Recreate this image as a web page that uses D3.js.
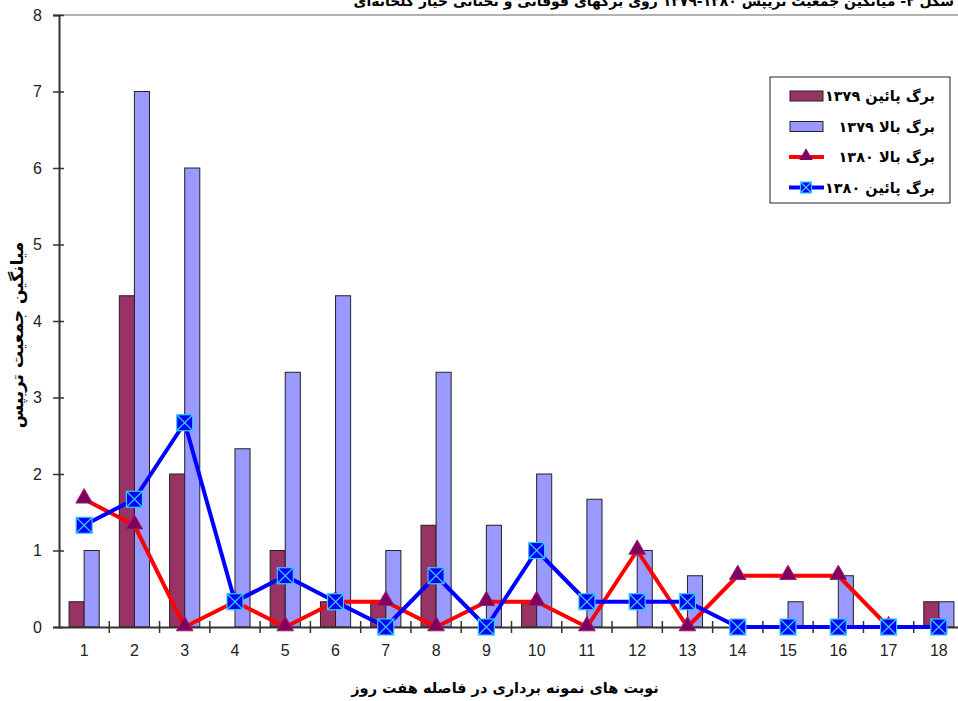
<!DOCTYPE html>
<html>
<head>
<meta charset="utf-8">
<script src="https://cdn.jsdelivr.net/npm/d3@7"></script>
<style>
    body { margin: 0; background: #fff; }
    svg { display: block; }
</style>
</head>
<body>
<div id="chart"></div>
<script>
// Sampling rounds (7 day interval)
const categories = ["1", "2", "3", "4", "5", "6", "7", "8", "9", "10", "11", "12", "13", "14", "15", "16", "17", "18"];

// Mean thrips population per series
const lowerLeaf1379 = [0.33, 4.33, 2, 0, 1, 0.33, 0.33, 1.33, 0, 0.33, 0, 0, 0, 0, 0, 0, 0, 0.33];
const upperLeaf1379 = [1, 7, 6, 2.33, 3.33, 4.33, 1, 3.33, 1.33, 2, 1.67, 1, 0.67, 0, 0.33, 0.67, 0, 0.33];
const upperLeaf1380 = [1.67, 1.33, 0, 0.33, 0, 0.33, 0.33, 0, 0.33, 0.33, 0, 1, 0, 0.67, 0.67, 0.67, 0, 0];
const lowerLeaf1380 = [1.33, 1.67, 2.67, 0.33, 0.67, 0.33, 0, 0.67, 0, 1, 0.33, 0.33, 0.33, 0, 0, 0, 0, 0];

// Y tick values
const yTicks = [0, 1, 2, 3, 4, 5, 6, 7, 8];

// Series names
const seriesNames = ["برگ پائین ۱۳۷۹", "برگ بالا ۱۳۷۹", "برگ بالا ۱۳۸۰", "برگ پائین ۱۳۸۰"];

const titleText = "شکل ۲- میانگین جمعیت تریپس ۱۳۸۰-۱۳۷۹ روی برگهای فوقانی و تحتانی خیار گلخانه‌ای";
const xTitle = "نوبت های نمونه برداری در فاصله هفت روز";
const yTitle = "میانگین جمعیت تریپس";

const width = 958, height = 701;
const plotLeft = 59, plotRight = 964, plotTop = 15, plotBottom = 627;
const faFont = "'DejaVu Sans', sans-serif";
const numFont = "'Liberation Sans', Arial, sans-serif";

const svg = d3.select("#chart")
    .append("svg")
    .attr("width", width)
    .attr("height", height);

// Scales
const x = d3.scaleBand().domain(categories).range([plotLeft, plotRight]).padding(0);
const xSub = d3.scaleBand().domain(["a", "b"]).range([0, x.bandwidth()]).paddingInner(0).paddingOuter(0.667);
const y = d3.scaleLinear().domain([0, 8]).range([plotBottom, plotTop]);

// Title (cut off at the top, as in the source picture)
svg.append("text")
    .attr("x", 954)
    .attr("y", 6)
    .attr("text-anchor", "start")
    .attr("direction", "rtl")
    .attr("font-family", faFont)
    .attr("font-weight", "bold")
    .attr("font-size", "14px")
    .text(titleText);

// Top border of the plot area
svg.append("line")
    .attr("x1", plotLeft).attr("x2", plotRight)
    .attr("y1", y(8)).attr("y2", y(8))
    .attr("stroke", "#9a9a9a")
    .attr("stroke-width", 1.5);

// Bars
const barData = [
    { values: lowerLeaf1379, key: "a", color: "#993366" },
    { values: upperLeaf1379, key: "b", color: "#9999FF" }
];
barData.forEach(s => {
    svg.append("g")
        .selectAll("rect")
        .data(s.values)
        .enter()
        .append("rect")
        .attr("x", (d, i) => x(categories[i]) + xSub(s.key))
        .attr("y", d => y(d))
        .attr("width", xSub.bandwidth())
        .attr("height", d => y(0) - y(d))
        .attr("fill", s.color)
        .attr("stroke", "#222")
        .attr("stroke-width", 1);
});

// Axes
const yAxis = svg.append("g")
    .attr("transform", `translate(${plotLeft},0)`)
    .call(d3.axisLeft(y).tickValues(yTicks).tickSize(6).tickPadding(11));
yAxis.selectAll(".tick line").attr("x1", 5);

const xAxis = svg.append("g")
    .attr("transform", `translate(0,${plotBottom})`)
    .call(d3.axisBottom(x).tickSize(0).tickPadding(18));

// x ticks sit on the band boundaries
xAxis.selectAll(".tick line").remove();
svg.append("g")
    .selectAll("line")
    .data(categories)
    .enter()
    .append("line")
    .attr("x1", d => x(d) + x.bandwidth())
    .attr("x2", d => x(d) + x.bandwidth())
    .attr("y1", plotBottom - 6)
    .attr("y2", plotBottom + 6)
    .attr("stroke", "#333")
    .attr("stroke-width", 1.5);

[yAxis, xAxis].forEach(a => {
    a.select(".domain").attr("stroke", "#333").attr("stroke-width", 2);
    a.selectAll(".tick line").attr("stroke", "#333").attr("stroke-width", 1.5);
    a.selectAll("text")
        .attr("font-family", numFont)
        .attr("font-size", "16px")
        .attr("fill", "#222");
});

// Lines
const line = d3.line()
    .x((d, i) => x(categories[i]) + x.bandwidth() / 2)
    .y(d => y(d));

svg.append("path")
    .datum(upperLeaf1380)
    .attr("d", line)
    .attr("fill", "none")
    .attr("stroke", "#FF0000")
    .attr("stroke-width", 4)
    .attr("stroke-linejoin", "round");

const tri = d3.symbol().type(d3.symbolTriangle).size(120);
svg.append("g")
    .selectAll("path")
    .data(upperLeaf1380)
    .enter()
    .append("path")
    .attr("d", tri)
    .attr("transform", (d, i) => `translate(${x(categories[i]) + x.bandwidth() / 2},${y(d) - 1})`)
    .attr("fill", "#800060")
    .attr("stroke", "#a0206a")
    .attr("stroke-width", 1);

svg.append("path")
    .datum(lowerLeaf1380)
    .attr("d", line)
    .attr("fill", "none")
    .attr("stroke", "#0000FF")
    .attr("stroke-width", 4)
    .attr("stroke-linejoin", "round");

// Square marker with a cyan cross
function squareMarker(g, cx, cy, s) {
    g.append("rect")
        .attr("x", cx - s / 2).attr("y", cy - s / 2)
        .attr("width", s).attr("height", s)
        .attr("fill", "#0000FF")
        .attr("stroke", "#33CCFF")
        .attr("stroke-width", 1.2);
    g.append("path")
        .attr("d", `M${cx - s / 2},${cy - s / 2}L${cx + s / 2},${cy + s / 2}M${cx + s / 2},${cy - s / 2}L${cx - s / 2},${cy + s / 2}`)
        .attr("stroke", "#33CCFF")
        .attr("stroke-width", 1.2);
}
const markers = svg.append("g");
lowerLeaf1380.forEach((d, i) => {
    squareMarker(markers, x(categories[i]) + x.bandwidth() / 2, y(d), 16);
});

// Axis titles
svg.append("text")
    .attr("x", 505)
    .attr("y", 693)
    .attr("text-anchor", "middle")
    .attr("direction", "rtl")
    .attr("font-family", faFont)
    .attr("font-weight", "bold")
    .attr("font-size", "14.5px")
    .text(xTitle);

svg.append("text")
    .attr("transform", "translate(23,335) rotate(-90)")
    .attr("text-anchor", "middle")
    .attr("direction", "rtl")
    .attr("font-family", faFont)
    .attr("font-weight", "bold")
    .attr("font-size", "17px")
    .text(yTitle);

// Legend
const legend = svg.append("g").attr("transform", "translate(770,77)");
legend.append("rect")
    .attr("width", 180).attr("height", 126)
    .attr("fill", "#fff")
    .attr("stroke", "#222")
    .attr("stroke-width", 1);

seriesNames.forEach((name, i) => {
    const ry = 19 + i * 30.5;
    if (i < 2) {
        legend.append("rect")
            .attr("x", 20).attr("y", ry - 5)
            .attr("width", 33).attr("height", 10)
            .attr("fill", barData[i].color)
            .attr("stroke", "#222");
    } else if (i === 2) {
        legend.append("line")
            .attr("x1", 19).attr("x2", 54).attr("y1", ry).attr("y2", ry)
            .attr("stroke", "#FF0000").attr("stroke-width", 4);
        legend.append("path")
            .attr("d", d3.symbol().type(d3.symbolTriangle).size(80))
            .attr("transform", `translate(36,${ry - 1})`)
            .attr("fill", "#800060");
    } else {
        legend.append("line")
            .attr("x1", 19).attr("x2", 54).attr("y1", ry).attr("y2", ry)
            .attr("stroke", "#0000FF").attr("stroke-width", 4);
        squareMarker(legend, 36, ry, 11);
    }
    legend.append("text")
        .attr("x", 165)
        .attr("y", ry)
        .attr("dy", "0.35em")
        .attr("text-anchor", "start")
        .attr("direction", "rtl")
        .attr("font-family", faFont)
        .attr("font-weight", "bold")
        .attr("font-size", "14.5px")
        .text(name);
});
</script>
</body>
</html>
